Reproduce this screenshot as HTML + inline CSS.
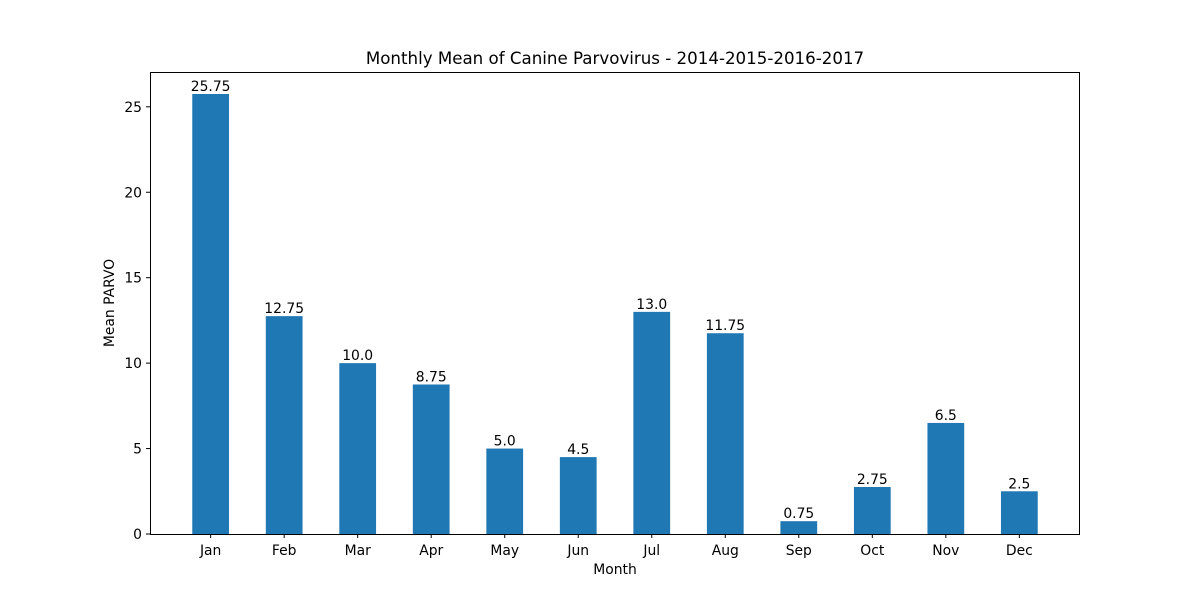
<!DOCTYPE html>
<html><head><meta charset="utf-8"><style>
body{margin:0;background:#fff;font-family:"DejaVu Sans","Liberation Sans",sans-serif;}
svg text{font-family:"DejaVu Sans","Liberation Sans",sans-serif;}
</style></head><body>
<svg id="chart" width="1200" height="600" xmlns="http://www.w3.org/2000/svg">
<rect width="1200" height="600" fill="#fff"/>
<text x="615" y="64" font-size="16.67" text-anchor="middle">Monthly Mean of Canine Parvovirus - 2014-2015-2016-2017</text>
<g id="bars"></g>
<g id="axes"></g>
<rect x="150.5" y="72.5" width="929" height="462" fill="none" stroke="#000" stroke-width="1"/>
<text x="615" y="574" font-size="13.9" text-anchor="middle">Month</text>
<text x="114" y="303" font-size="13.9" text-anchor="middle" transform="rotate(-90 114 303)">Mean PARVO</text>
</svg>
<script>
const months=["Jan","Feb","Mar","Apr","May","Jun","Jul","Aug","Sep","Oct","Nov","Dec"];
const values=[25.75,12.75,10.0,8.75,5.0,4.5,13.0,11.75,0.75,2.75,6.5,2.5];
const valueLabels=["25.75","12.75","10.0","8.75","5.0","4.5","13.0","11.75","0.75","2.75","6.5","2.5"];
const yTicks=[0,5,10,15,20,25];
const NS="http://www.w3.org/2000/svg";
const L=150,R=1080,T=72,B=534;
const xMin=-0.825,xMax=11.825,yMax=27.0375;
const xs=i=>L+(i-xMin)/(xMax-xMin)*(R-L);
const ys=v=>B-v/yMax*(B-T);
const bars=document.getElementById('bars'),axes=document.getElementById('axes');
function mk(tag,attrs,parent){const e=document.createElementNS(NS,tag);for(const k in attrs)e.setAttribute(k,attrs[k]);parent.appendChild(e);return e;}
const bw=0.5*(R-L)/(xMax-xMin);
values.forEach((v,i)=>{
 const r=mk('rect',{x:xs(i)-bw/2,y:ys(v),width:bw,height:B-ys(v),fill:'#1f77b4'},bars);
 
 
 const t=mk('text',{x:xs(i),y:ys(v)-3,'font-size':13.9,'text-anchor':'middle'},bars);
 t.textContent=valueLabels[i];
 
 
 mk('line',{x1:xs(i),x2:xs(i),y1:B,y2:B+4,stroke:'#000'},axes);
 const xl=mk('text',{x:xs(i),y:B+21,'font-size':13.9,'text-anchor':'middle'},axes);
 xl.textContent=months[i];
 
 
});
yTicks.forEach(v=>{
 mk('line',{x1:L-4,x2:L,y1:ys(v),y2:ys(v),stroke:'#000'},axes);
 const yl=mk('text',{x:L-8,y:ys(v)+5,'font-size':13.9,'text-anchor':'end'},axes);
 yl.textContent=v;
 
 
});
</script>
</body></html>
